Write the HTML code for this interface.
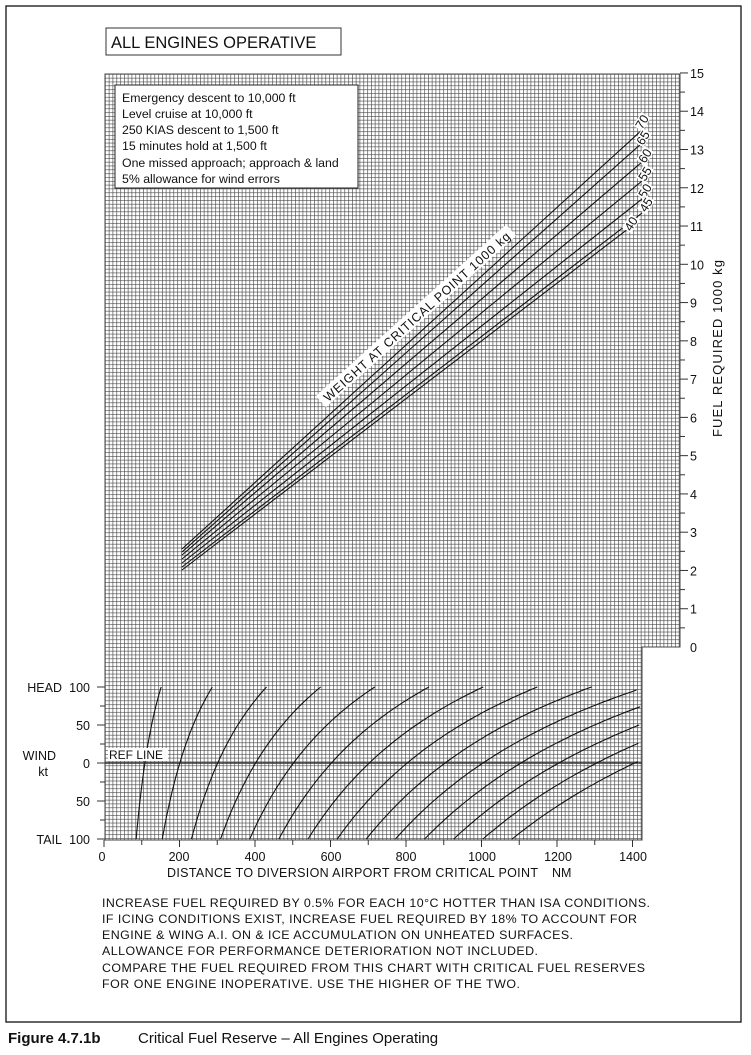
<!DOCTYPE html>
<html><head><meta charset="utf-8">
<style>
html,body{margin:0;padding:0;background:#fff;}
svg{display:block;}
text{font-family:"Liberation Sans",sans-serif;fill:#111;}
</style></head>
<body>
<svg id="s" width="751" height="1055" viewBox="0 0 751 1055" xmlns="http://www.w3.org/2000/svg">
<defs>
<pattern id="g" x="105" y="74" width="3.8" height="3.82" patternUnits="userSpaceOnUse">
<rect width="3.8" height="3.82" fill="#fff"/>
<path d="M0,0H3.8M0,0V3.82" stroke="#444" stroke-width="1.25" fill="none"/>
</pattern>
</defs>
<rect x="6" y="6" width="735" height="1016" fill="none" stroke="#111" stroke-width="1.3"/>
<rect x="106" y="28" width="235" height="27" fill="#fff" stroke="#333" stroke-width="1"/>
<text x="111" y="48" font-size="16.5">ALL ENGINES OPERATIVE</text>

<path d="M105,74H680V647H642V840H105Z" fill="url(#g)" stroke="#444" stroke-width="1"/>
<line x1="105" y1="763" x2="642" y2="763" stroke="#333" stroke-width="1.6"/>

<rect x="115" y="85" width="243" height="103" fill="#fff" stroke="#222" stroke-width="1"/>
<g font-size="12.3">
<text x="122" y="102">Emergency descent to 10,000 ft</text>
<text x="122" y="118">Level cruise at 10,000 ft</text>
<text x="122" y="134">250 KIAS descent to 1,500 ft</text>
<text x="122" y="150">15 minutes hold at 1,500 ft</text>
<text x="122" y="167">One missed approach; approach &amp; land</text>
<text x="122" y="183">5% allowance for wind errors</text>
</g>

<g id="wl" stroke="#111" stroke-width="1.1" fill="none"></g>
<g id="lb"></g>
<g id="wc" stroke="#111" stroke-width="1.1" fill="none"></g>
<g id="ax" stroke="#333" stroke-width="1"></g>

<g transform="translate(417,317) rotate(-42)">
<rect x="-128" y="-9" width="256" height="15" fill="#fff"/>
<text x="0" y="4" font-size="12.5" text-anchor="middle" textLength="246">WEIGHT AT CRITICAL POINT  1000 kg</text>
</g>

<rect x="108" y="748" width="60" height="13" fill="#fff"/>
<text x="109" y="759" font-size="12">REF LINE</text>

<g font-size="12.5" text-anchor="end">
<text x="90" y="692">100</text><text x="90" y="730">50</text><text x="90" y="768">0</text>
<text x="90" y="806">50</text><text x="90" y="844">100</text>
<text x="62" y="692">HEAD</text><text x="56" y="760">WIND</text><text x="48" y="776">kt</text>
<text x="62" y="844">TAIL</text>
</g>
<g font-size="12.5" text-anchor="middle">
<text x="102" y="861">0</text><text x="179" y="861">200</text><text x="255" y="861">400</text>
<text x="331" y="861">600</text><text x="406" y="861">800</text><text x="482" y="861">1000</text>
<text x="558" y="861">1200</text><text x="633" y="861">1400</text>
</g>
<text x="167" y="877" font-size="12.5" textLength="371">DISTANCE TO DIVERSION AIRPORT FROM CRITICAL POINT</text>
<text x="552" y="877" font-size="12.5">NM</text>
<g id="fl" font-size="12.5"></g>
<text transform="translate(722,437) rotate(-90)" font-size="13" textLength="177">FUEL REQUIRED  1000 kg</text>

<g font-size="12.4">
<text x="102" y="907" textLength="548">INCREASE FUEL REQUIRED BY 0.5% FOR EACH 10°C HOTTER THAN ISA CONDITIONS.</text>
<text x="102" y="923" textLength="535">IF ICING CONDITIONS EXIST, INCREASE FUEL REQUIRED BY 18% TO ACCOUNT FOR</text>
<text x="102" y="939" textLength="471">ENGINE &amp; WING A.I. ON &amp; ICE ACCUMULATION ON UNHEATED SURFACES.</text>
<text x="102" y="955" textLength="436">ALLOWANCE FOR PERFORMANCE DETERIORATION NOT INCLUDED.</text>
<text x="102" y="972" textLength="543">COMPARE THE FUEL REQUIRED FROM THIS CHART WITH CRITICAL FUEL RESERVES</text>
<text x="102" y="988" textLength="418">FOR ONE ENGINE INOPERATIVE.  USE THE HIGHER OF THE TWO.</text>
</g>
<text x="8" y="1043" font-size="15" font-weight="bold">Figure 4.7.1b</text>
<text x="138" y="1043" font-size="15">Critical Fuel Reserve – All Engines Operating</text>
</svg>
<script>
var NS="http://www.w3.org/2000/svg";
function el(p,t,a,txt){var e=document.createElementNS(NS,t);for(var k in a)e.setAttribute(k,a[k]);if(txt)e.textContent=txt;document.getElementById(p).appendChild(e);return e;}
// weight lines: [label, y start, y end, label x, label y]
var W=[[70,549,130,642,130],[65,552,143,643,146],[60,555,162,645,164],[55,559,181,645,182],[50,563,199,645,199],[45,567,213,646,213],[40,570,222,631,232]];
W.forEach(function(w){
  var xe=w[0]==40?637:642;
  el("wl","line",{x1:182,y1:w[1],x2:xe,y2:w[2]});
  var g=el("lb","g",{transform:"translate("+w[3]+","+w[4]+") rotate(-58)"});
  var r=document.createElementNS(NS,"rect");r.setAttribute("x",-1);r.setAttribute("y",-10);r.setAttribute("width",16);r.setAttribute("height",11);r.setAttribute("fill","#fff");g.appendChild(r);
  var t=document.createElementNS(NS,"text");t.setAttribute("font-size","12.5");t.textContent=w[0];g.appendChild(t);
});
// wind curves
for(var n=1;n<=14;n++){
  var d0=37.9*n, d="",started=false;
  for(var w=-100;w<=100;w+=2){
    var x=104+d0*333/(333-w)+(n==1?3:0), y=763-w*0.76;
    if(x>641) break;
    d+=(started?"L":"M")+x.toFixed(1)+","+y.toFixed(1);started=true;
  }
  el("wc","path",{d:d});
}
// right axis ticks
for(var i=0;i<=30;i++){
  var y=647-i*38.27/2, maj=i%2==0;
  if(i>0) el("ax","line",{x1:680,y1:y,x2:maj?688:685,y2:y});
  if(maj) el("fl","text",{x:690,y:y+5},String(i/2));
}
// bottom ticks
for(var i=0;i<=14;i++){var x=104+i*37.75;el("ax","line",{x1:x,y1:840,x2:x,y2:i%2==0?847:845});}
// left ticks
for(var i=0;i<=8;i++){var y=687+i*19;el("ax","line",{x1:i%2==0?97:100,y1:y,x2:105,y2:y});}
</script>
</body></html>
